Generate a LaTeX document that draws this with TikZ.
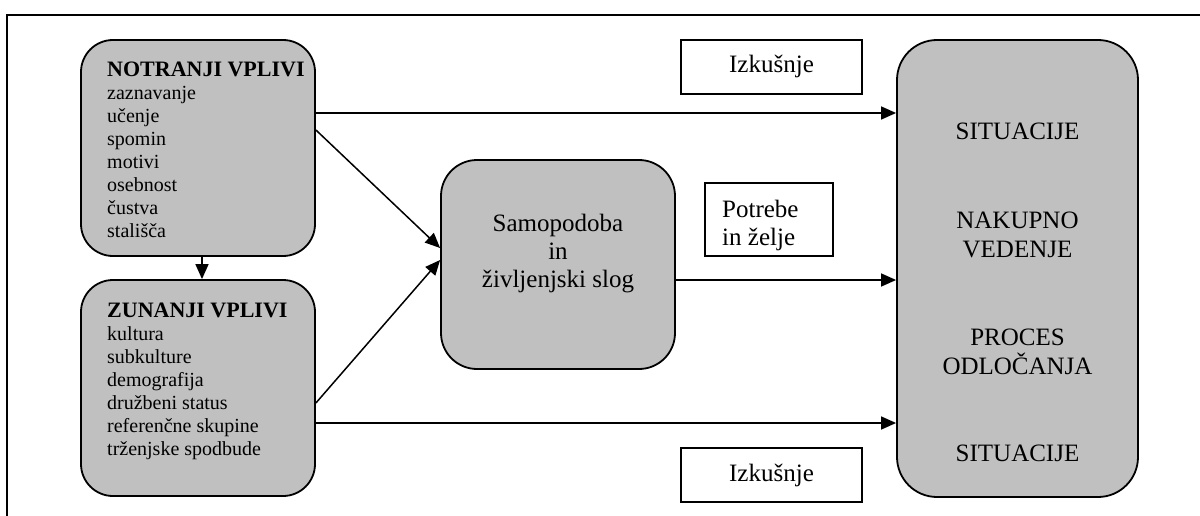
\documentclass[tikz,border=0pt]{standalone}
\usepackage{fontspec}
\setmainfont{Liberation Serif}
\usetikzlibrary{arrows.meta}
\definecolor{boxgray}{RGB}{192,192,192}
\begin{document}
\begin{tikzpicture}[x=1pt,y=-1pt,
  gbox/.style={draw=black, line width=1.8pt, fill=boxgray, rounded corners=#1, inner sep=0pt},
  wbox/.style={draw=black, line width=1.6pt, fill=white, inner sep=0pt},
  conn/.style={line width=1.5pt, -{Triangle[length=15pt,width=13pt]}},
  small/.style={font=\fontsize{20}{23}\selectfont, inner sep=0pt},
  big/.style={font=\fontsize{25}{28}\selectfont, inner sep=0pt},
  frame/.style={line width=1.8pt}]
\useasboundingbox (0,0) rectangle (1200,516);
% frame
\coordinate (ftr) at (1200,15);
\coordinate (ftl) at (7,15);
\coordinate (fbl) at (7,516);
\draw[frame] (ftr) -- (ftl) -- (fbl);
% boxes
\node[gbox=32pt, minimum width=234pt, minimum height=216pt] (notranji) at (198,148) {};
\node[gbox=32pt, minimum width=234pt, minimum height=216pt] (zunanji) at (198,388) {};
\node[gbox=36pt, minimum width=234pt, minimum height=209pt] (samo) at (558,264.5) {};
\node[gbox=40pt, minimum width=241pt, minimum height=457pt] (right) at (1017.5,268.5) {};
\node[wbox, minimum width=181pt, minimum height=54pt] (izk1) at (771.5,67) {};
\node[wbox, minimum width=181pt, minimum height=54pt] (izk2) at (771.5,475) {};
\node[wbox, minimum width=128pt, minimum height=73pt] (potrebe) at (769,219.5) {};
% texts
\node[small, anchor=north west, align=left] (notranjitxt) at (107,62)
  {{\fontsize{22}{23}\selectfont\textbf{NOTRANJI VPLIVI}}\\zaznavanje\\učenje\\spomin\\motivi\\osebnost\\čustva\\stališča};
\node[small, anchor=north west, align=left] (zunanjitxt) at (107,303)
  {{\fontsize{22}{23}\selectfont\textbf{ZUNANJI VPLIVI}}\\kultura\\subkulture\\demografija\\družbeni status\\referenčne skupine\\trženjske spodbude};
\node[big, anchor=north, align=center] (samotxt) at (558,214)
  {Samopodoba\\in\\življenjski slog};
\node[big, anchor=base] (izk1txt) at (771.5,73) {Izkušnje};
\node[big, anchor=base] (izk2txt) at (771.5,481) {Izkušnje};
\node[big, anchor=north west, align=left] (potrebetxt) at (722,200) {Potrebe\\in želje};
\node[big, anchor=base] (sit1) at (1017.5,140) {SITUACIJE};
\node[big, anchor=base] (nak) at (1017.5,228) {NAKUPNO};
\node[big, anchor=base] (ved) at (1017.5,257) {VEDENJE};
\node[big, anchor=base] (proc) at (1017.5,345) {PROCES};
\node[big, anchor=base] (odl) at (1017.5,374) {ODLOČANJA};
\node[big, anchor=base] (sit2) at (1017.5,461) {SITUACIJE};
% connectors
\draw[conn] (notranji.south -| 202,0) -- (zunanji.north -| 202,0);
\draw[conn] (notranji.east |- 0,113) -- (right.west |- 0,113);
\draw[conn] (notranji.east |- 0,130) -- (samo.west |- 0,248);
\draw[conn] (zunanji.east |- 0,403) -- (samo.west |- 0,260);
\draw[conn] (samo.east |- 0,280) -- (right.west |- 0,280);
\draw[conn] (zunanji.east |- 0,423) -- (right.west |- 0,423);
\end{tikzpicture}
\end{document}
